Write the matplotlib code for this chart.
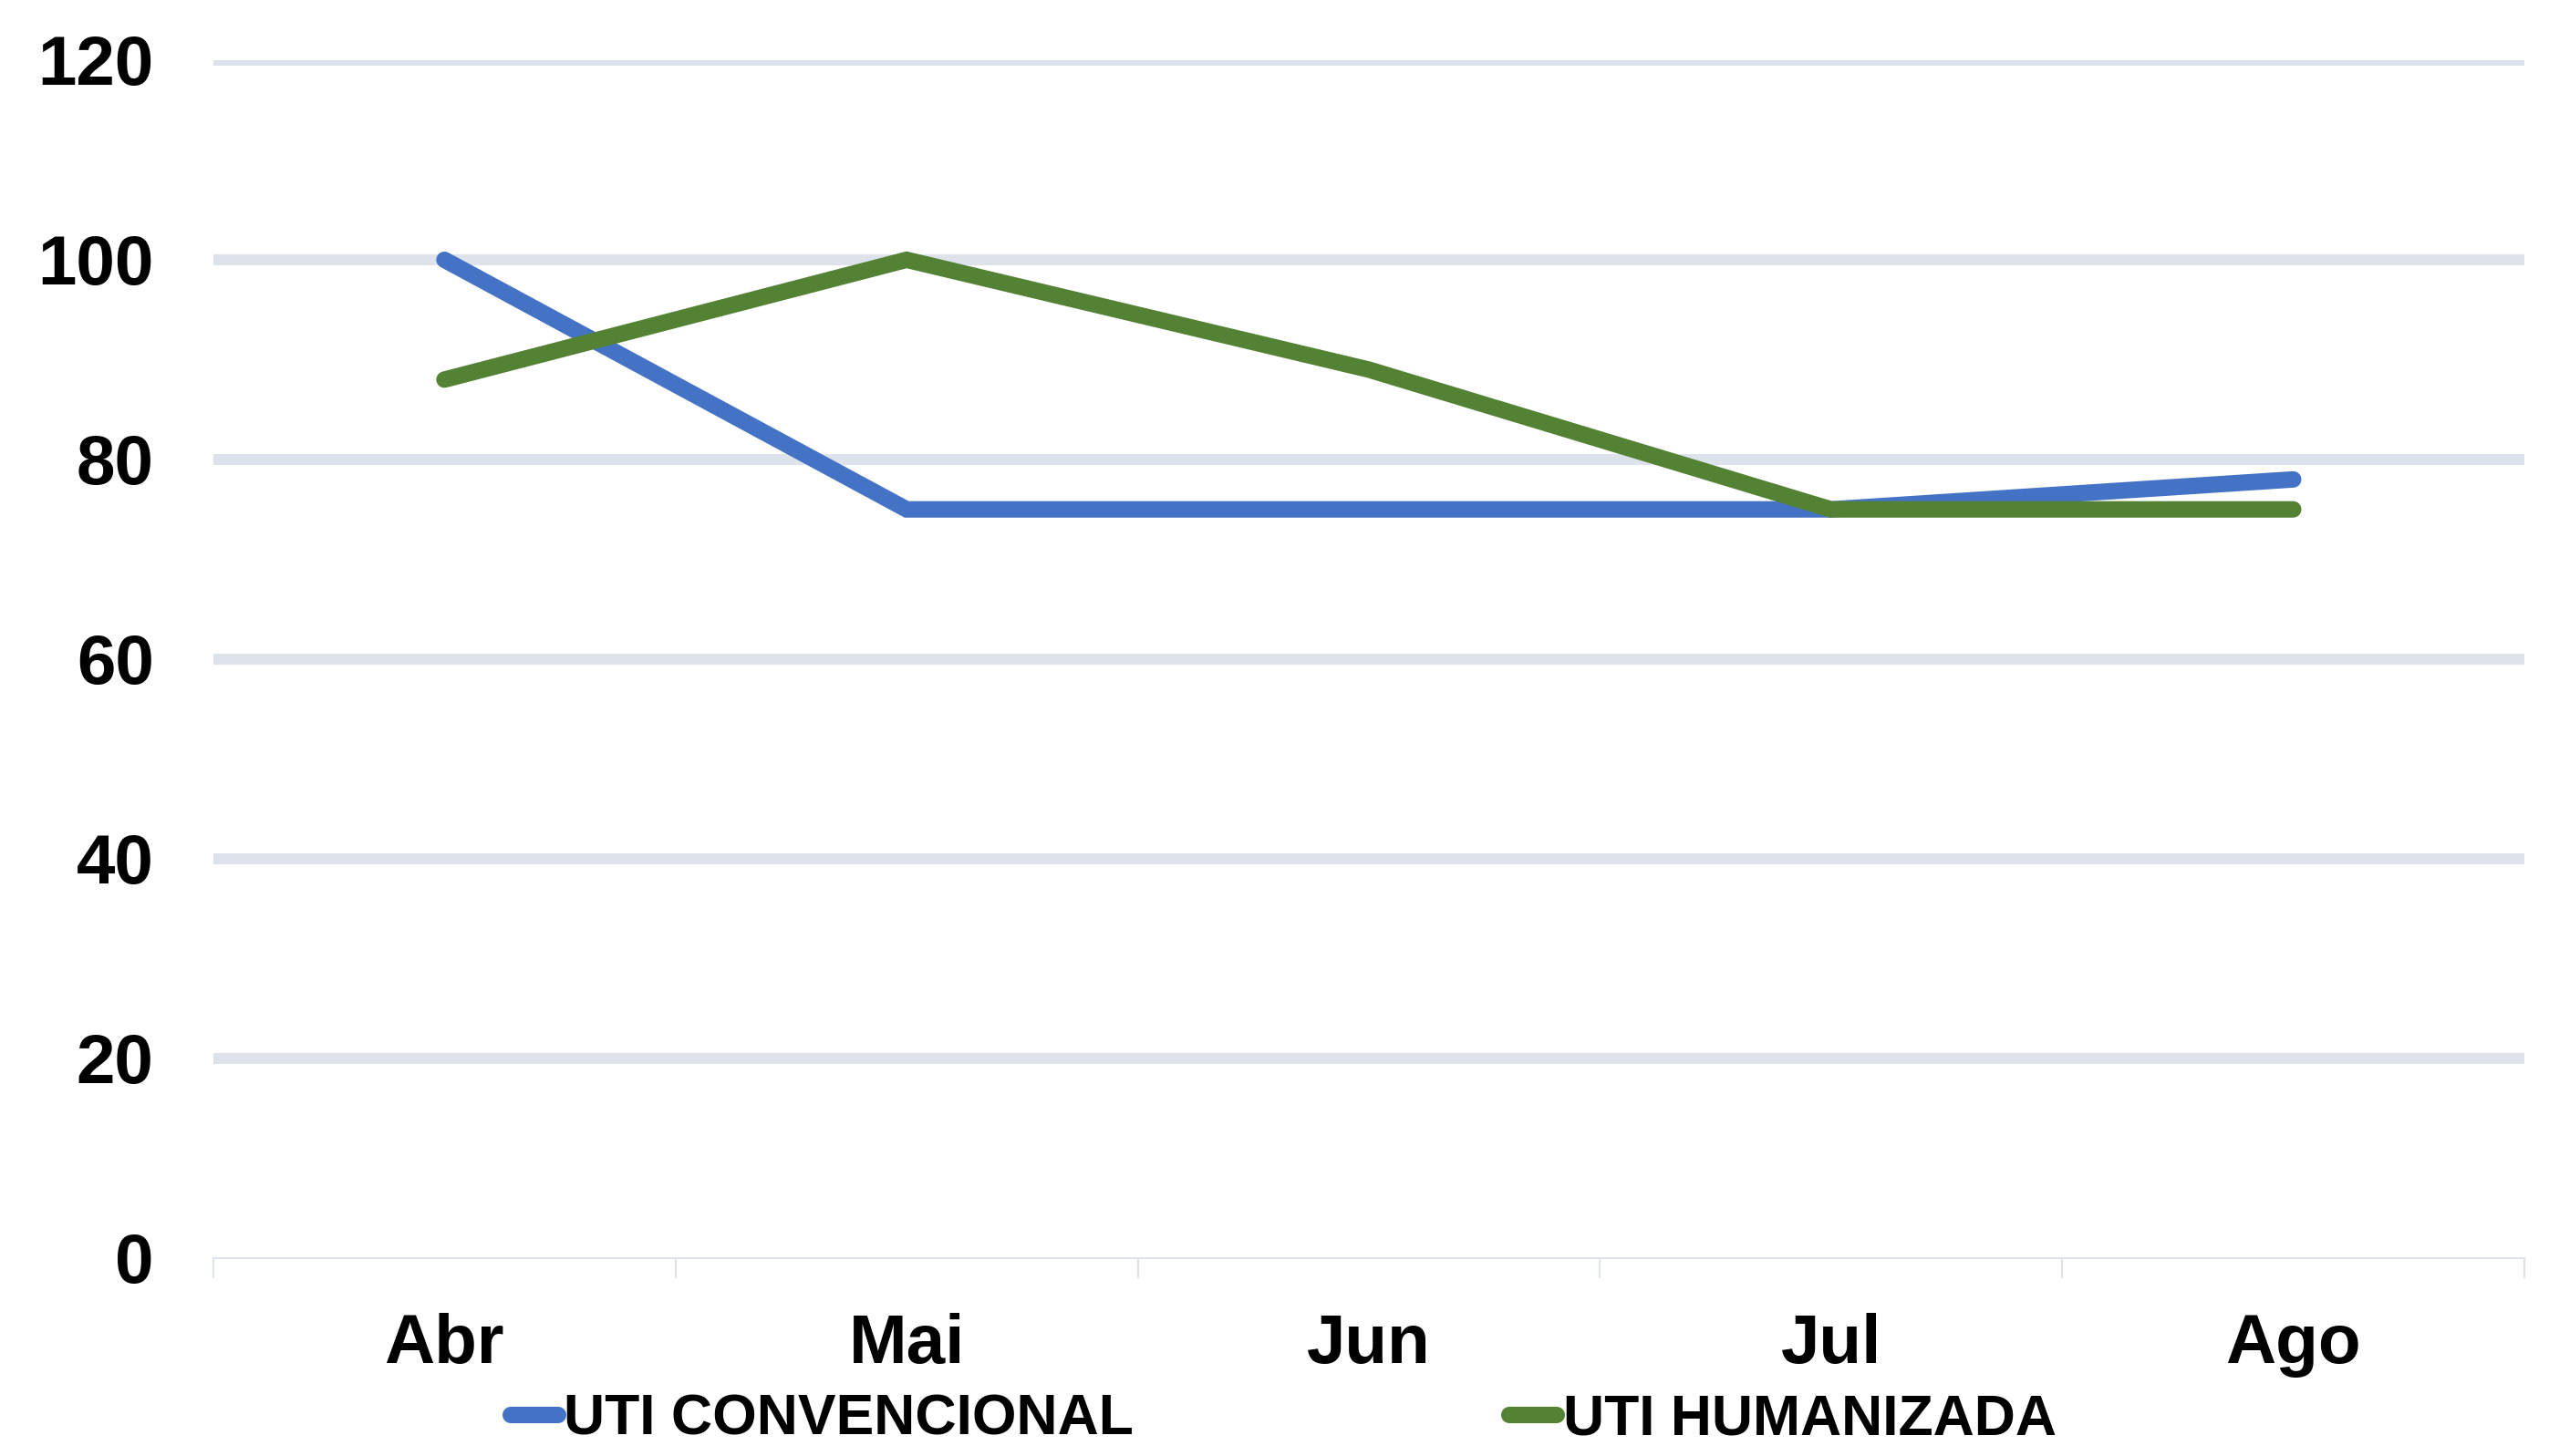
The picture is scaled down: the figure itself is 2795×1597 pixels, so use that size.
import numpy as np
import matplotlib
matplotlib.use("Agg")
import matplotlib.pyplot as plt

months = ['Abr', 'Mai', 'Jun', 'Jul', 'Ago']
uti_convencional = [100, 75, 75, 75, 78]
uti_humanizada = [88, 100, 89, 75, 75]
y_ticks = [0, 20, 40, 60, 80, 100, 120]

plt.rcParams['font.family'] = ['Liberation Sans', 'DejaVu Sans']
plt.rcParams['font.weight'] = 'bold'

blue = '#4472C4'
green = '#548235'
grid_col = '#DEE3EB'

fig = plt.figure(figsize=(27.95, 15.97), dpi=100)
ax = fig.add_axes([0.0837, 0.1359, 0.9066, 0.8228])

x = np.arange(len(months))
ax.plot(x, uti_convencional, color=blue, lw=13, solid_capstyle='round',
        solid_joinstyle='miter', label='UTI CONVENCIONAL', zorder=3)
ax.plot(x, uti_humanizada, color=green, lw=13, solid_capstyle='round',
        solid_joinstyle='miter', label='UTI HUMANIZADA', zorder=4)

ax.set_xlim(-0.5, len(months) - 0.5)
ax.set_ylim(0, 120)
ax.set_yticks(y_ticks)
ax.set_xticks(x)
ax.set_xticklabels(months)
ax.set_xticks(np.arange(-0.5, len(months)), minor=True)

for v in y_ticks[1:]:
    ax.axhline(v, color=grid_col, lw=8.6, zorder=1)

for s in ['top', 'right', 'left']:
    ax.spines[s].set_visible(False)
ax.spines['bottom'].set_color(grid_col)
ax.spines['bottom'].set_linewidth(1.5)

ax.tick_params(axis='y', length=0, pad=47, labelsize=55)
ax.tick_params(axis='x', which='major', length=0, pad=43, labelsize=55)
ax.tick_params(axis='x', which='minor', length=16, width=1.5, color=grid_col)
for lab in ax.get_xticklabels() + ax.get_yticklabels():
    lab.set_fontweight('bold')

# legend kept fully inside the figure (descenders would otherwise be clipped)
leg = fig.legend(loc='center', bbox_to_anchor=(0.5035, 0.025), ncol=2,
                 frameon=False, fontsize=45, handlelength=0.83, handletextpad=0.1,
                 columnspacing=6.6, borderaxespad=0, borderpad=0)
for t in leg.get_texts():
    t.set_fontweight('bold')

fig.savefig('out.png', dpi=100)
